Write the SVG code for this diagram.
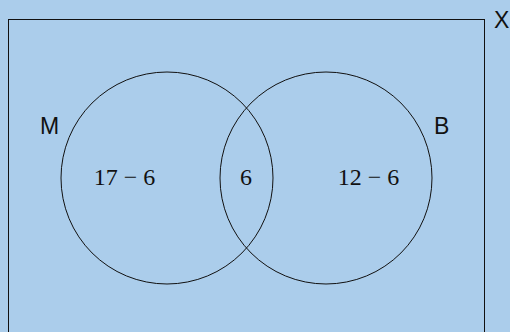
<svg xmlns="http://www.w3.org/2000/svg" width="510" height="332" viewBox="0 0 510 332">
<style>
.set{fill:none;stroke:#111;stroke-width:1}
.lbl{font-family:"Liberation Sans",Arial,sans-serif;font-size:23px;fill:#111}
.num{font-family:"Liberation Serif","Times New Roman",serif;font-size:24px;fill:#111;text-anchor:middle}
</style>
<rect x="0" y="0" width="510" height="332" fill="#abcdeb"/>
<g id="universe">
<rect class="set" x="8.5" y="19.5" width="476" height="330"/>
<text class="lbl" x="494" y="28">X</text>
</g>
<g id="M">
<circle class="set" cx="167" cy="178" r="106"/>
<text class="lbl" x="40" y="134">M</text>
<text class="num" x="124.5" y="185">17 − 6</text>
</g>
<g id="B">
<circle class="set" cx="326" cy="178" r="106"/>
<text class="lbl" x="434" y="134">B</text>
<text class="num" x="368.5" y="185">12 − 6</text>
</g>
<g id="intersection">
<text class="num" x="246" y="185">6</text>
</g>
</svg>
